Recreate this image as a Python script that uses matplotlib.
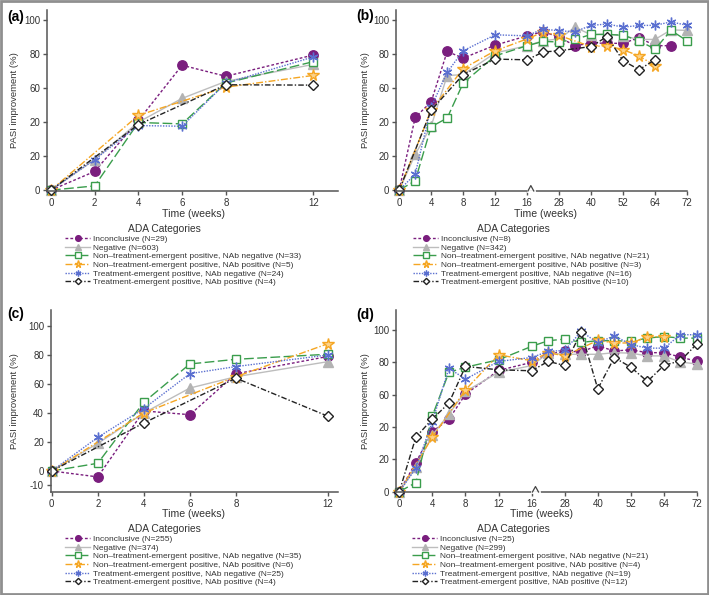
# PASI improvement by ADA category, four panels

import numpy as np
import matplotlib.pyplot as plt
from matplotlib.patches import Rectangle

plt.rcParams['font.family'] = ['Liberation Sans', 'DejaVu Sans']

nan = np.nan

# time points
weeks_short = [0, 2, 4, 6, 8, 12]
weeks_long = [0, 2, 4, 6, 8, 12, 16, 22, 28, 34, 40, 46, 52, 58, 64, 68, 72]
ticks_long = [0, 4, 8, 12, 16, 28, 40, 52, 64, 72]

categories = ['Inconclusive', 'Negative',
              'Non\u2013treatment-emergent positive, NAb negative',
              'Non\u2013treatment-emergent positive, NAb positive',
              'Treatment-emergent positive, NAb negative',
              'Treatment-emergent positive, NAb positive']

# panel (a)
a_n = [29, 603, 33, 5, 24, 4]
a_incon = [0, 11, 41, 73.5, 67, 79.5]
a_neg = [0, 18, 40, 54, 64, 74]
a_ntenneg = [0, 2.5, 39.8, 39, 63, 75.6]
a_ntenpos = [0, nan, 44, nan, 60.6, 67.5]
a_tenneg = [0, 18, 38, 37.6, 63, 78.4]
a_tenpos = [0, nan, 38.6, nan, 62, 61.8]

# panel (b)
b_n = [8, 342, 21, 3, 16, 10]
b_incon = [0, 42.8, 52, 81.6, 77.7, 85.3, 90.8, 93.3, 90, 85, 86.5, 86.5, 86.3, 89.8, 85, 85, nan]
b_neg = [0, 21, 37.7, 67.4, 68, 80.7, 85, 87.9, 89, 95.9, 91.4, 92, 90.7, 88.7, 88.7, 94.3, 94]
b_ntenneg = [0, 5.5, 37.3, 42.4, 63, 79, 85, 87.5, 87.2, 88.7, 91.6, 91.6, 91.2, 87.9, 83, 94, 87.9]
b_ntenpos = [0, nan, 47, nan, 71.5, 82, 89, 93, 91, nan, 84.5, 85, 82.6, 79, 73.2, nan, nan]
b_tenneg = [0, 9.4, 49, 69.3, 82, 91.4, 90.8, 94.9, 93.7, 93.3, 96.9, 97.8, 95.9, 96.9, 97, 99, 97]
b_tenpos = [0, nan, 47, nan, 68, 77.1, 76.7, 81.3, 82, nan, 84.5, 90.4, 76.2, 70.9, 76.7, nan, nan]

# panel (c)
c_n = [255, 374, 35, 6, 25, 4]
c_incon = [0, -4.1, 41.4, 38.8, 67, 79]
c_neg = [0, 19, 40, 57.2, 65, 75.4]
c_ntenneg = [0, 5.3, 47.4, 73.8, 77, 80.5]
c_ntenpos = [0, nan, 40, nan, 65, 87.8]
c_tenneg = [0, 23.2, 43, 67.1, 72, 80]
c_tenpos = [0, nan, 33.1, nan, 64, 37.7]

# panel (d)
d_n = [25, 299, 21, 4, 19, 12]
d_incon = [0, 18, 37.2, 44.8, 60.3, 75, 80, 85.1, 86.8, 86.6, 90.3, 87, 87.8, 86, 86, 83.3, 80.6]
d_neg = [0, 15, 35, 48, 62, 73.8, 78, 85.7, 85, 85, 85, 86, 85.7, 84, 84, 80.2, 79]
d_ntenneg = [0, 5.6, 47, 73.8, 77, 81.6, 89.9, 93.4, 94.4, 92.4, 93.4, 93.4, 93, 95, 96, 95, 95]
d_ntenpos = [0, nan, 33.7, nan, 63, 84.7, 81, 86, 84, nan, 93.6, 92, 92, 95.7, 96, nan, nan]
d_tenneg = [0, 14.5, 43.4, 76.4, 69.6, 80.6, 83, 86.8, 87.4, 99.2, 92, 96.5, 91, 88.8, 88.8, 97.1, 97.1]
d_tenpos = [0, 33.7, 45, 54.8, 77.5, 75.4, 74.8, 80.6, 78.1, 98.8, 63.6, 83, 77, 68.2, 78.1, 81, 91.5]

# line styles per category
styles = [
    dict(color='#7a1e7e', ls=(0, (2, 1.5)), marker='o', mfc='#7a1e7e', mec='#7a1e7e', ms=6.8),
    dict(color='#bdbdbd', ls='-', marker='^', mfc='#b3b3b3', mec='#b3b3b3', ms=6.5),
    dict(color='#3a9d4c', ls=(0, (7, 2.5)), marker='s', mfc='white', mec='#3a9d4c', ms=6.2),
    dict(color='#f5a623', ls=(0, (5, 1.5, 1, 1.5)), marker='*', mfc='#fcd28a', mec='#f5a623', ms=8.5),
    dict(color='#5a6fd0', ls=(0, (1, 1)), marker=(6, 2, 0), mfc='#5a6fd0', mec='#5a6fd0', ms=7),
    dict(color='#222222', ls=(0, (4, 1.5, 1, 1.5)), marker='D', mfc='white', mec='#222222', ms=5.3),
]

W, H = 709, 595
fig = plt.figure(figsize=(W / 100, H / 100), dpi=100)


def fx(x):
    return x / W


def fy(y):
    return 1 - y / H


def panel(box, weeks, series, ns, letter, long_axis, yticks, ylabels, ylim, xlim,
          letter_xy, ylab_x, xlab_xy, ada_xy, leg_xy):
    left, top, right, bottom = box
    ax = fig.add_axes([fx(left), fy(bottom), fx(right - left), (bottom - top) / H])
    if long_axis:
        wk = [-4] + ticks_long + [80]
        pos = list(range(-1, len(ticks_long) + 1))
        ax.set_xscale('function', functions=(lambda x: np.interp(x, wk, pos),
                                             lambda p: np.interp(p, pos, wk)))
        ax.set_xticks(ticks_long)
    else:
        ax.set_xticks(weeks)
    ax.set_xticklabels([str(t) for t in ax.get_xticks()])
    w = np.array(weeks, dtype=float)
    for vals, st, cat, n in zip(series, styles, categories, ns):
        v = np.array(vals, dtype=float)
        m = ~np.isnan(v)
        ax.plot(w[m], v[m], color=st['color'], ls=st['ls'], lw=1.0,
                marker=st['marker'], mfc=st['mfc'], mec=st['mec'], ms=st['ms'],
                mew=1.0, clip_on=False, label=cat + ' (N=%d)' % n)
    ax.set_xlim(*xlim)
    ax.set_ylim(*ylim)
    ax.set_yticks(yticks)
    ax.set_yticklabels(ylabels)
    for s in ['top', 'right']:
        ax.spines[s].set_visible(False)
    for s in ['left', 'bottom']:
        ax.spines[s].set_color('#555555')
        ax.spines[s].set_linewidth(1.1)
    ax.tick_params(labelsize=7, colors='#555555', labelcolor='#333333',
                   length=3, width=1, pad=2)
    if long_axis:
        # axis break mark after week 16
        tr = ax.get_xaxis_transform()
        ax.plot([16.3, 18.5], [0, 0], color='white', lw=2, transform=tr, clip_on=False, zorder=5)
        ax.plot([16.3, 17.4, 18.5], [0, 0.03, 0], color='#444444', lw=0.9,
                transform=tr, clip_on=False, zorder=6)
    fig.text(fx(letter_xy[0]), fy(letter_xy[1]), letter, fontsize=10, fontweight='bold',
             ha='left', va='center')
    fig.text(fx(ylab_x), fy((top + bottom) / 2), 'PASI improvement (%)', fontsize=6.8,
             rotation=90, ha='center', va='center', color='#333333')
    fig.text(fx(xlab_xy[0]), fy(xlab_xy[1]), 'Time (weeks)', fontsize=7.6,
             ha='center', va='center', color='#333333')
    fig.text(fx(ada_xy[0]), fy(ada_xy[1]), 'ADA Categories', fontsize=7.4,
             ha='center', va='center', color='#333333')
    handles, labels = ax.get_legend_handles_labels()
    fig.legend(handles, labels, loc='upper left',
               bbox_to_anchor=(fx(leg_xy[0]), fy(leg_xy[1])),
               frameon=False, fontsize=6, borderpad=0, borderaxespad=0,
               handlelength=3.0, handletextpad=0.35, labelspacing=0.1,
               markerscale=0.6, labelcolor='#333333')
    return ax


yt = [0, 20, 40, 60, 80, 100]
yl_abd = ['0', '20', '20', '60', '80', '100']

panel((47, 10, 338, 191), weeks_short,
      [a_incon, a_neg, a_ntenneg, a_ntenpos, a_tenneg, a_tenpos], a_n, '(a)', False,
      yt, yl_abd, (-0.5, 106), (-0.18, 13.13),
      (7, 17), 15, (194, 214), (164, 229), (65, 235))

panel((396, 10, 687, 191), weeks_long,
      [b_incon, b_neg, b_ntenneg, b_ntenpos, b_tenneg, b_tenpos], b_n, '(b)', True,
      yt, yl_abd, (-0.5, 106), (-0.4, 72),
      (356, 16), 365, (546, 214), (513, 229), (413, 235))

panel((51, 310, 338, 492), weeks_short,
      [c_incon, c_neg, c_ntenneg, c_ntenpos, c_tenneg, c_tenpos], c_n, '(c)', False,
      [-10, 0, 20, 40, 60, 80, 100], ['-10', '0', '20', '40', '60', '80', '100'],
      (-14.5, 111), (-0.03, 12.43),
      (7, 314), 15, (194, 514), (164, 529), (65, 535))

panel((396, 310, 697, 492), weeks_long,
      [d_incon, d_neg, d_ntenneg, d_ntenpos, d_tenneg, d_tenpos], d_n, '(d)', True,
      yt, yl_abd, (-0.2, 112.4), (-0.4, 72),
      (356, 315), 365, (542, 514), (513, 529), (412, 535))

# outer frame
fig.patches.append(Rectangle((0.0015, 0.002), 0.997, 0.996, transform=fig.transFigure,
                             fill=False, edgecolor='#8f8f8f', lw=2))

fig.savefig('out.png', dpi=100)
